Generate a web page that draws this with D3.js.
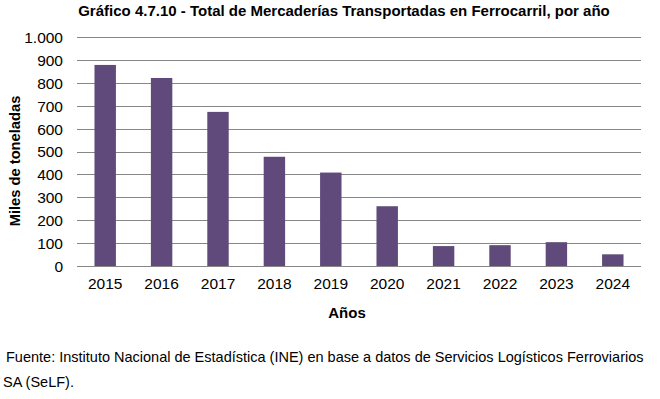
<!DOCTYPE html>
<html>
<head>
<meta charset="utf-8">
<script src="https://cdn.jsdelivr.net/npm/d3@7"></script>
<style>
  body { margin: 0; background: #fff; }
  text { font-family: "Liberation Sans", Arial, sans-serif; }
</style>
</head>
<body>
<svg id="chart" width="660" height="399"></svg>
<script>
// datos
const years = ['2015', '2016', '2017', '2018', '2019', '2020', '2021', '2022', '2023', '2024'];
const tons = [878, 821, 673, 477, 408, 261, 87, 91, 104, 51];
const yTicks = [0, 100, 200, 300, 400, 500, 600, 700, 800, 900, 1000];

const margin = { top: 37, left: 77, right: 19, bottom: 133 }
const width = 660, height = 399

const svg = d3.select('#chart')

const x = d3.scaleBand()
    .domain(years)
    .range([margin.left, width - margin.right])
    .paddingInner(0.62)
    .paddingOuter(0.31)

const y = d3.scaleLinear()
    .domain([0, 1000])
    .range([height - margin.bottom, margin.top])

const fmt = d => d3.format(',')(d).replace(',', '.')

// lineas de la grilla
svg.append('g')
    .selectAll('line')
    .data(yTicks)
    .join('line')
    .attr('x1', margin.left)
    .attr('x2', width - margin.right)
    .attr('y1', d => Math.round(y(d)) + 0.5)
    .attr('y2', d => Math.round(y(d)) + 0.5)
    .attr('stroke', '#878787')
    .attr('stroke-width', 1)

// eje y
const yAxis = svg.append('g')
    .attr('transform', `translate(${margin.left - 14},0)`)
    .call(d3.axisLeft(y).tickValues(yTicks).tickFormat(fmt).tickSize(0))
yAxis.select('.domain').remove()
yAxis.selectAll('text')
    .attr('x', 0)
    .attr('dy', '0.35em')
    .style('font-size', '15.5px')
    .style('fill', '#000')

// barras
svg.append('g')
    .selectAll('rect')
    .data(tons)
    .join('rect')
    .attr('x', (d, i) => x(years[i]))
    .attr('y', d => y(d))
    .attr('width', x.bandwidth())
    .attr('height', d => y(0) - y(d))
    .attr('fill', '#604a7b')

// eje x
const xAxis = svg.append('g')
    .attr('transform', `translate(0,${y(0)})`)
    .call(d3.axisBottom(x).tickSize(0))
xAxis.select('.domain').remove()
xAxis.selectAll('text')
    .attr('y', 12)
    .style('font-size', '15.5px')
    .style('fill', '#000')

// titulo
svg.append('text')
    .attr('x', 344)
    .attr('y', 16)
    .attr('text-anchor', 'middle')
    .style('font-size', '15px')
    .style('font-weight', 'bold')
    .text('Gráfico 4.7.10  - Total de Mercaderías Transportadas en Ferrocarril, por año')

// titulo eje y
svg.append('text')
    .attr('transform', 'translate(20,161) rotate(-90)')
    .attr('text-anchor', 'middle')
    .style('font-size', '14.7px')
    .style('font-weight', 'bold')
    .text('Miles de toneladas')

// titulo eje x
svg.append('text')
    .attr('x', 347)
    .attr('y', 318)
    .attr('text-anchor', 'middle')
    .style('font-size', '15px')
    .style('font-weight', 'bold')
    .text('Años')

// fuente
svg.append('text')
    .attr('x', 6)
    .attr('y', 362)
    .style('font-size', '14.5px')
    .text('Fuente: Instituto Nacional de Estadística (INE) en base a datos de Servicios Logísticos Ferroviarios')
svg.append('text')
    .attr('x', 3)
    .attr('y', 387)
    .style('font-size', '14.5px')
    .text('SA (SeLF).')
</script>
</body>
</html>
